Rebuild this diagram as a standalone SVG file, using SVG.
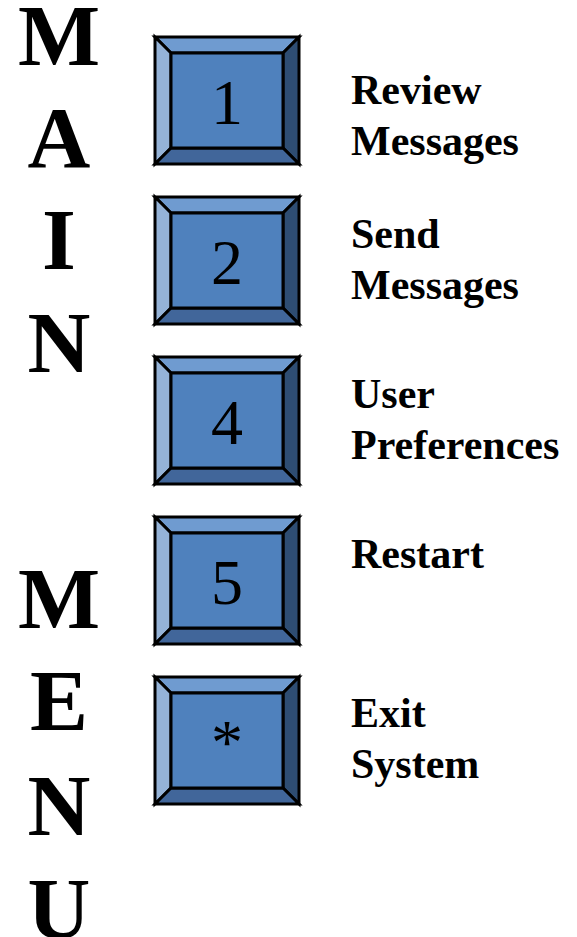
<svg xmlns="http://www.w3.org/2000/svg" width="577" height="937" viewBox="0 0 577 937">
<style>
.big{font-family:"Liberation Serif","Times New Roman",serif;font-weight:bold;font-size:87px;fill:#000;text-anchor:middle}
.lbl{font-family:"Liberation Serif","Times New Roman",serif;font-weight:bold;font-size:42px;fill:#000}
.num{font-family:"Liberation Serif","Times New Roman",serif;font-size:64px;fill:#000;text-anchor:middle}
</style>
<defs>
<g id="key" stroke="#000" stroke-width="3" stroke-linejoin="miter">
<polygon fill="#6f9bd0" points="0,0 144,0 128,16 16,16"/>
<polygon fill="#95b3d7" points="0,0 16,16 16,111 0,127"/>
<polygon fill="#2e4d73" points="144,0 144,127 128,111 128,16"/>
<polygon fill="#41669a" points="0,127 16,111 128,111 144,127"/>
<polygon fill="#4f81bd" points="16,16 128,16 128,111 16,111"/>
</g>
</defs>
<g id="title">
<text class="big" x="59" y="65">M</text>
<text class="big" x="59" y="167">A</text>
<text class="big" x="59" y="269">I</text>
<text class="big" x="59" y="372">N</text>
<text class="big" x="59" y="628">M</text>
<text class="big" x="59" y="730">E</text>
<text class="big" x="59" y="835">N</text>
<text class="big" x="59" y="938">U</text>
</g>
<g id="key1"><use href="#key" x="155" y="37"/><text class="num" x="227" y="124">1</text></g>
<g id="key2"><use href="#key" x="155" y="197"/><text class="num" x="227" y="284">2</text></g>
<g id="key4"><use href="#key" x="155" y="357"/><text class="num" x="227" y="444">4</text></g>
<g id="key5"><use href="#key" x="155" y="517"/><text class="num" x="227" y="604">5</text></g>
<g id="keystar"><use href="#key" x="155" y="677"/><text class="num" x="227" y="764">*</text></g>
<g id="labels">
<text class="lbl" x="351" y="104">Review</text>
<text class="lbl" x="351" y="155">Messages</text>
<text class="lbl" x="351" y="248">Send</text>
<text class="lbl" x="351" y="299">Messages</text>
<text class="lbl" x="351" y="408">User</text>
<text class="lbl" x="351" y="459">Preferences</text>
<text class="lbl" x="351" y="568">Restart</text>
<text class="lbl" x="351" y="727">Exit</text>
<text class="lbl" x="351" y="778">System</text>
</g>
<g id="connectors"/>
</svg>
